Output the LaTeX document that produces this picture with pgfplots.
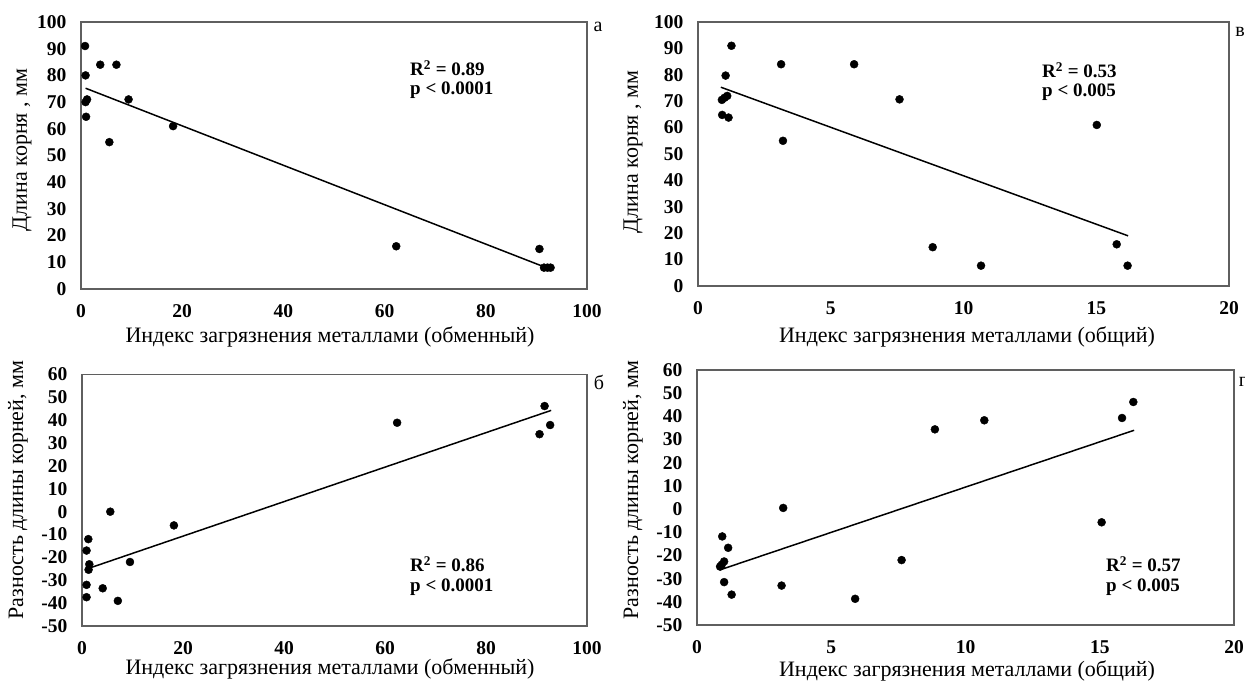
\documentclass[border=0pt]{standalone}
\usepackage{fontspec}
\setmainfont{Liberation Serif}
\usepackage{pgfplots}
\pgfplotsset{compat=1.18}

\definecolor{boxgray}{RGB}{95,95,95}

\pgfplotsset{
  panel/.style={
    scale only axis, anchor=north west, clip=false,
    axis line style={boxgray, line width=1.3pt},
    major tick length=0pt, tick style={draw=none},
    /pgf/number format/assume math mode=true,
    ticklabel style={font=\fontsize{19.5}{19.5}\selectfont\bfseries},
    xticklabel style={yshift=-12pt},
    yticklabel style={xshift=-11pt},
  },
  dots/.style={only marks, mark=*, mark size=4pt, black},
  fit/.style={black, line width=1.5pt, no marks},
}

\begin{document}
\begin{tikzpicture}
\useasboundingbox (0,0) rectangle (1245pt,-684pt);

% а
\begin{axis}[panel, at={(81pt,-22pt)}, width=506pt, height=267pt,
  xmin=0, xmax=100, ymin=0, ymax=100,
  xtick={0,20,...,100}, ytick={0,10,...,100}]
\addplot [dots] coordinates {
(0.8,91) (0.9,80) (1.2,71) (0.9,70) (1.0,64.5) (3.8,84) (7.0,84) (9.4,71)
(5.6,55) (18.2,61) (62.3,16) (90.6,15) (91.5,8) (92.2,8) (92.8,8)};
\addplot [fit] coordinates {(0.9,75.2) (92.2,7.8)};
\end{axis}

% б
\begin{axis}[panel, at={(82pt,-374.5pt)}, width=505pt, height=251.5pt,
  xmin=0, xmax=100, ymin=-50, ymax=60,
  xtick={0,20,...,100}, ytick={-50,-40,...,60}]
\addplot [dots] coordinates {
(1.25,-12) (0.9,-17) (1.45,-23) (1.3,-25.4) (0.9,-32) (0.9,-37.4)
(5.6,0) (18.2,-6) (9.5,-22) (4.1,-33.5) (7.1,-39)
(62.4,38.9) (91.6,46.2) (92.7,37.9) (90.6,33.9)};
\addplot [fit] coordinates {(0.9,-25.1) (92.9,44.3)};
\end{axis}

% в
\begin{axis}[panel, at={(698pt,-22pt)}, width=531pt, height=264pt,
  xmin=0, xmax=20, ymin=0, ymax=100,
  xtick={0,5,...,20}, ytick={0,10,...,100}]
\addplot [dots] coordinates {
(1.26,91) (1.04,79.7) (0.9,70.5) (1.0,71.3) (1.1,72) (0.91,64.8) (1.15,63.8)
(3.13,84) (5.88,84) (7.59,70.7) (3.2,55) (8.84,14.7) (15.02,61)
(15.77,15.8) (16.18,7.7) (10.66,7.7)};
\addplot [fit] coordinates {(0.86,75.3) (16.2,19)};
\end{axis}

% г
\begin{axis}[panel, at={(697pt,-370pt)}, width=537pt, height=255pt,
  xmin=0, xmax=20, ymin=-50, ymax=60,
  xtick={0,5,...,20}, ytick={-50,-40,...,60}]
\addplot [dots] coordinates {
(0.94,-11.8) (1.16,-16.7) (1.01,-22.6) (0.86,-24.8) (0.92,-24.0) (1.01,-31.5)
(1.29,-36.9) (3.21,0.5) (3.15,-33) (5.89,-38.7) (7.62,-22) (8.86,34.4)
(10.7,38.3) (15.83,39.3) (16.25,46.2) (15.07,-5.7)};
\addplot [fit] coordinates {(0.86,-26.2) (16.28,34)};
\end{axis}

% axis titles
\begin{scope}[every node/.style={font=\fontsize{22}{22}\selectfont, inner sep=0pt}]
\node at (330pt,-337pt) {Индекс загрязнения металлами (обменный)};
\node at (330pt,-669pt) {Индекс загрязнения металлами (обменный)};
\node at (967pt,-337pt) {Индекс загрязнения металлами (общий)};
\node at (967pt,-671pt) {Индекс загрязнения металлами (общий)};
\node[rotate=90] at (22pt,-150pt) {Длина корня , мм};
\node[rotate=90] at (633pt,-152pt) {Длина корня , мм};
\node[rotate=90] at (18pt,-490pt) {Разность длины корней, мм};
\node[rotate=90] at (633pt,-490pt) {Разность длины корней, мм};
\end{scope}

% panel letters
\begin{scope}[every node/.style={font=\fontsize{20}{20}\selectfont, inner sep=0pt}]
\node at (598pt,-27pt) {а};
\node at (599pt,-382pt) {б};
\node at (1240pt,-32pt) {в};
\node at (1243pt,-382pt) {г};
\end{scope}

% statistics
\begin{scope}[every node/.style={font=\fontsize{19}{19}\selectfont\bfseries, inner sep=0pt, anchor=west}]
\node at (410pt,-68pt) {R\textsuperscript{2} = 0.89};
\node at (410pt,-90pt) {p < 0.0001};
\node at (1042pt,-70pt) {R\textsuperscript{2} = 0.53};
\node at (1042pt,-92pt) {p < 0.005};
\node at (410pt,-564pt) {R\textsuperscript{2} = 0.86};
\node at (410pt,-587pt) {p < 0.0001};
\node at (1106pt,-564pt) {R\textsuperscript{2} = 0.57};
\node at (1106pt,-587pt) {p < 0.005};
\end{scope}
\end{tikzpicture}
\end{document}
